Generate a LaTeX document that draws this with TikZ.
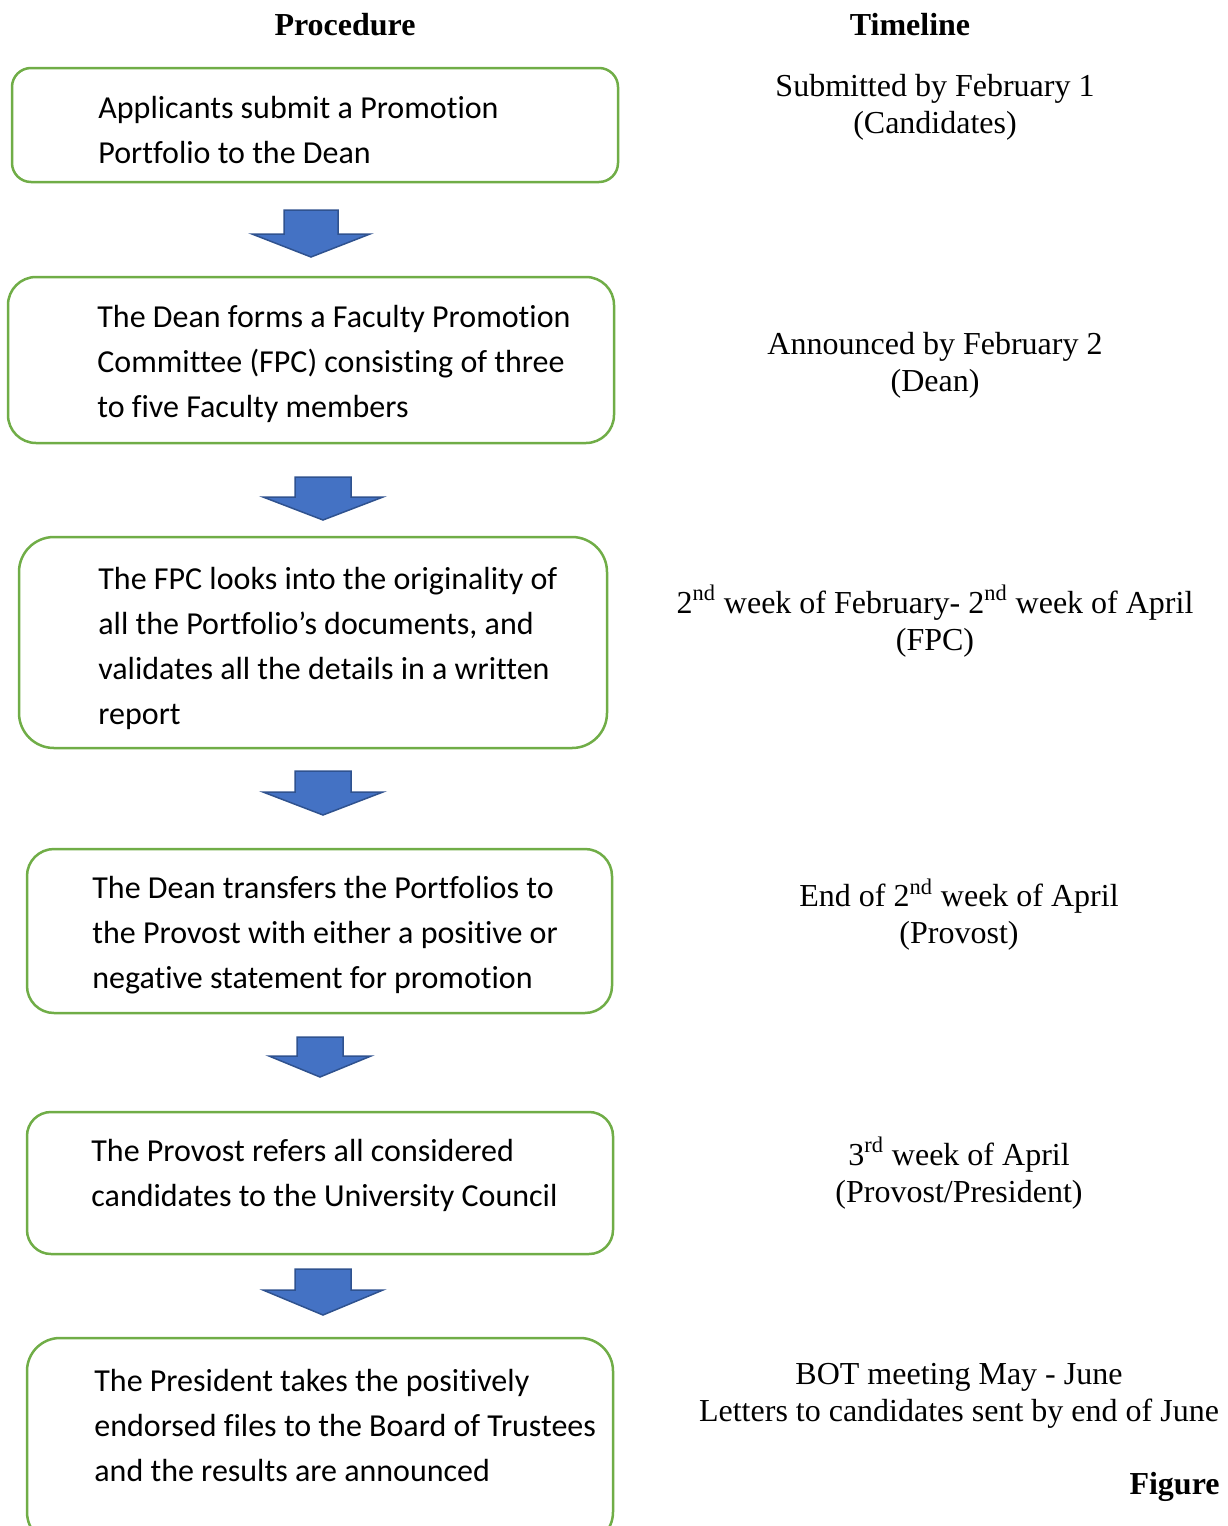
\documentclass[tikz,border=0pt]{standalone}
\usepackage{fontspec}
\setmainfont{Liberation Serif}
\newfontfamily\boxfont[Ligatures=NoCommon]{Carlito}
\usetikzlibrary{positioning}

\definecolor{boxgreen}{RGB}{112,173,71}
\definecolor{arrowblue}{RGB}{68,114,196}
\definecolor{arrowedge}{RGB}{47,82,143}

\tikzset{
  stepbox/.style={draw=boxgreen, line width=1.25pt},
  steptext/.style={anchor=west, inner sep=0pt, align=left, font=\boxfont\fontsize{16}{22.5}\selectfont},
  timetext/.style={inner sep=0pt, align=center, font=\fontsize{16}{18.5}\selectfont},
  headtext/.style={inner sep=0pt, font=\bfseries\fontsize{16}{19}\selectfont},
  flowarrow/.style={fill=arrowblue, draw=arrowedge, line width=0.75pt, line join=miter}
}

% block arrow: centre x, top, shaft half width, head half width, shaft bottom, tip
\newcommand{\blockdown}[6]{%
  \draw [flowarrow] (#1-#3,#2) -- (#1+#3,#2) -- (#1+#3,#5) -- (#1+#4,#5) -- (#1,#6) -- (#1-#4,#5) -- (#1-#3,#5) -- cycle ;}

\begin{document}
\begin{tikzpicture}[x=0.5pt,y=0.5pt,yscale=-1,xscale=1]
\useasboundingbox (0,0) rectangle (1227,1526);
\clip (0,0) rectangle (1227,1526);

% Headings
\node [headtext] (hproc) at (345,25) {Procedure};
\node [headtext] (htime) at (910,25) {Timeline};

% Procedure boxes
\draw [stepbox, rounded corners=9.5pt] (12,68) rectangle (618,182);
\draw [stepbox, rounded corners=14pt] (8,277) rectangle (614,443);
\draw [stepbox, rounded corners=17.5pt] (19,537) rectangle (607,748);
\draw [stepbox, rounded corners=13.5pt] (27,849) rectangle (612,1013);
\draw [stepbox, rounded corners=12pt] (27,1112) rectangle (613,1254);
\draw [stepbox, rounded corners=16.5pt] (27,1338) rectangle (613,1545);

% Box texts
\node [steptext] (step1) at (98,130) {Applicants submit a Promotion\\Portfolio to the Dean};
\node [steptext] (step2) at (97,363.5) {The Dean forms a Faculty Promotion\\Committee (FPC) consisting of three\\to five Faculty members};
\node [steptext] (step3) at (98,648.5) {The FPC looks into the originality of\\all the Portfolio’s documents, and\\validates all the details in a written\\report};
\node [steptext] (step4) at (92,935.5) {The Dean transfers the Portfolios to\\the Provost with either a positive or\\negative statement for promotion};
\node [steptext] (step5) at (91,1175.5) {The Provost refers all considered\\candidates to the University Council};
\node [steptext] (step6) at (94,1425) {The President takes the positively\\endorsed files to the Board of Trustees\\and the results are announced};

% Arrows between boxes
\blockdown{311}{210}{27}{59}{234}{257}
\blockdown{323}{477}{28}{60}{497}{520}
\blockdown{323}{771}{28}{60}{792}{815}
\blockdown{320}{1037}{23}{51}{1056}{1077}
\blockdown{323}{1269}{28}{60}{1290}{1315}

% Timeline
\node [timetext] (time1) at (935,107.5) {Submitted by February 1\\(Candidates)};
\node [timetext] (time2) at (935,365.5) {Announced by February 2\\(Dean)};
\node [timetext] (time3) at (935,621) {2\textsuperscript{nd} week of February- 2\textsuperscript{nd} week of April\\(FPC)};
\node [timetext] (time4) at (959,914.5) {End of 2\textsuperscript{nd} week of April\\(Provost)};
\node [timetext] (time5) at (959,1173) {3\textsuperscript{rd} week of April\\(Provost/President)};
\node [timetext] (time6) at (959,1396) {BOT meeting May - June\\Letters to candidates sent by end of June};

\node [headtext, anchor=east] (fig) at (1220,1487) {Figure};
\end{tikzpicture}
\end{document}
